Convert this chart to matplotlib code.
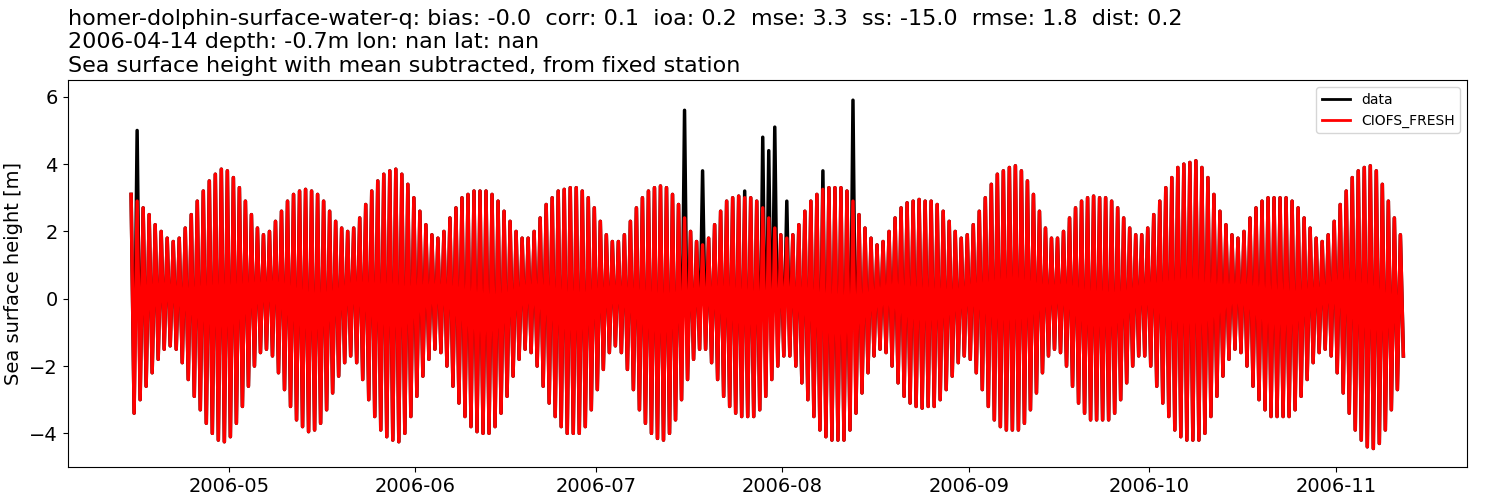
import numpy as np
import pandas as pd
import matplotlib
matplotlib.use("Agg")
import matplotlib.pyplot as plt

start_day = "2006-04-14"

# daily high-water peaks of the model [m]
model_high = [
    3.1, 2.9, 2.7, 2.5, 2.2, 2.0, 1.8, 1.7, 1.8, 2.1, 2.5, 2.9, 3.2, 3.5, 3.7,
    3.85, 3.8, 3.6, 3.3, 2.9, 2.5, 2.1, 1.9, 2.0, 2.3, 2.6, 2.9, 3.1, 3.2, 3.25,
    3.2, 3.1, 2.9, 2.6, 2.3, 2.1, 2.0, 2.1, 2.4, 2.8, 3.2, 3.5, 3.7, 3.8,
    3.85, 3.7, 3.4, 3.0, 2.6, 2.2, 1.9, 1.8, 2.0, 2.4, 2.7, 3.0, 3.1, 3.2, 3.2,
    3.2, 3.1, 2.9, 2.6, 2.3, 2.0, 1.8, 1.8, 2.0, 2.4, 2.8, 3.0, 3.2, 3.25, 3.3,
    3.3, 3.2, 3.0, 2.7, 2.3, 1.9, 1.7, 1.7, 1.9, 2.3, 2.7, 3.0, 3.2, 3.3,
    3.35, 3.3, 3.1, 2.8, 2.4, 2.0, 1.7, 1.6, 1.8, 2.2, 2.6, 2.9, 3.0, 3.05, 3.0,
    3.0, 2.9, 2.7, 2.4, 2.1, 1.9, 1.8, 1.9, 2.2, 2.6, 2.9, 3.1, 3.25, 3.3, 3.3,
    3.3, 3.2, 2.9, 2.5, 2.1, 1.8, 1.6, 1.7, 2.0, 2.4, 2.7, 2.85, 2.9, 2.95, 2.9,
    2.9, 2.8, 2.6, 2.3, 2.0, 1.8, 1.9, 2.2, 2.6, 3.0, 3.4, 3.7, 3.8, 3.9,
    3.95, 3.8, 3.5, 3.1, 2.6, 2.1, 1.8, 1.8, 2.0, 2.4, 2.7, 2.9, 3.0, 3.05, 3.0,
    3.0, 2.9, 2.7, 2.4, 2.1, 1.9, 1.9, 2.1, 2.5, 2.9, 3.3, 3.6, 3.9, 4.0, 4.05,
    4.1, 3.9, 3.6, 3.1, 2.6, 2.2, 1.9, 1.8, 2.0, 2.4, 2.7, 2.9, 3.0, 3.0, 3.0,
    3.0, 2.9, 2.7, 2.4, 2.1, 1.8, 1.7, 1.9, 2.3, 2.8, 3.2, 3.6, 3.8, 3.9, 3.95,
    3.8, 3.4, 2.9, 2.4, 1.9,
]

# daily low-water troughs of the model [m]
model_low = [
    -3.4, -3.0, -2.6, -2.2, -1.8, -1.5, -1.4, -1.5, -1.9, -2.4, -2.9, -3.3, -3.7, -4.0, -4.2,
    -4.25, -4.1, -3.7, -3.2, -2.6, -2.0, -1.6, -1.5, -1.7, -2.2, -2.7, -3.2, -3.6, -3.8, -3.95,
    -3.9, -3.7, -3.3, -2.8, -2.3, -1.9, -1.7, -1.9, -2.4, -3.0, -3.5, -3.9, -4.1, -4.2,
    -4.25, -4.0, -3.5, -2.9, -2.3, -1.8, -1.5, -1.6, -2.0, -2.6, -3.1, -3.5, -3.8, -3.95, -4.0,
    -4.0, -3.8, -3.4, -2.9, -2.3, -1.8, -1.5, -1.6, -2.0, -2.6, -3.1, -3.5, -3.8, -4.0, -4.0,
    -4.0, -3.8, -3.3, -2.7, -2.1, -1.6, -1.4, -1.6, -2.1, -2.7, -3.3, -3.7, -4.0, -4.15,
    -4.2, -4.0, -3.6, -3.0, -2.4, -1.8, -1.5, -1.5, -1.9, -2.4, -2.9, -3.2, -3.4, -3.5, -3.5,
    -3.5, -3.3, -2.9, -2.4, -2.0, -1.7, -1.7, -2.0, -2.5, -3.0, -3.5, -3.9, -4.1, -4.2, -4.2,
    -4.2, -3.9, -3.4, -2.8, -2.2, -1.7, -1.5, -1.6, -2.0, -2.5, -2.9, -3.1, -3.2, -3.25, -3.2,
    -3.2, -3.0, -2.7, -2.3, -1.9, -1.7, -1.8, -2.2, -2.7, -3.2, -3.6, -3.8, -3.9, -3.9,
    -3.9, -3.7, -3.3, -2.8, -2.2, -1.7, -1.5, -1.6, -2.0, -2.6, -3.1, -3.4, -3.6, -3.6, -3.6,
    -3.6, -3.4, -3.0, -2.5, -2.0, -1.7, -1.7, -2.0, -2.6, -3.1, -3.5, -3.9, -4.1, -4.2, -4.2,
    -4.2, -4.0, -3.5, -2.9, -2.3, -1.8, -1.5, -1.6, -2.0, -2.6, -3.0, -3.3, -3.5, -3.5, -3.5,
    -3.5, -3.3, -2.9, -2.4, -1.9, -1.6, -1.5, -1.7, -2.2, -2.8, -3.4, -3.9, -4.2, -4.4, -4.45,
    -4.3, -3.9, -3.3, -2.7, -1.7,
]

# observed spikes that stand above the model (day index, value [m])
spike_days = [1, 92, 95, 102, 105, 106, 107, 109, 115, 120]
spike_vals = [5.0, 5.6, 3.8, 3.2, 4.8, 4.4, 5.1, 2.9, 3.8, 5.9]

title = ("homer-dolphin-surface-water-q: bias: -0.0  corr: 0.1  ioa: 0.2  mse: 3.3  ss: -15.0  rmse: 1.8  dist: 0.2\n"
         "2006-04-14 depth: -0.7m lon: nan lat: nan\n"
         "Sea surface height with mean subtracted, from fixed station")

n = len(model_high)
t0 = pd.Timestamp(start_day) + pd.Timedelta(hours=12)
obs_high = list(model_high)
for d, v in zip(spike_days, spike_vals):
    obs_high[d] = v

times, model, obs = [], [], []
for i in range(n):
    times += [t0 + pd.Timedelta(hours=24 * i + 6), t0 + pd.Timedelta(hours=24 * i + 18)]
    model += [model_high[i], model_low[i]]
    obs += [obs_high[i], model_low[i]]
times = pd.to_datetime(times)

fig, ax = plt.subplots(figsize=(15, 5), dpi=100)
fig.subplots_adjust(left=0.045, right=0.978, top=0.84, bottom=0.066)
ax.plot(times, obs, color="k", lw=2.5, label="data")
ax.plot(times, model, color="r", lw=2.5, label="CIOFS_FRESH")
ax.set_ylim(-5, 6.5)
ax.set_yticks([-4, -2, 0, 2, 4, 6])
ax.xaxis.set_major_locator(matplotlib.dates.MonthLocator())
ax.xaxis.set_major_formatter(matplotlib.dates.DateFormatter("%Y-%m"))
ax.tick_params(labelsize=14)
ax.set_ylabel("Sea surface height [m]", fontsize=14)
ax.set_title(title, loc="left", fontsize=16)
leg = ax.legend(loc="upper right", fontsize=10)
for line in leg.get_lines():
    line.set_linewidth(2)
fig.savefig("out.png")
